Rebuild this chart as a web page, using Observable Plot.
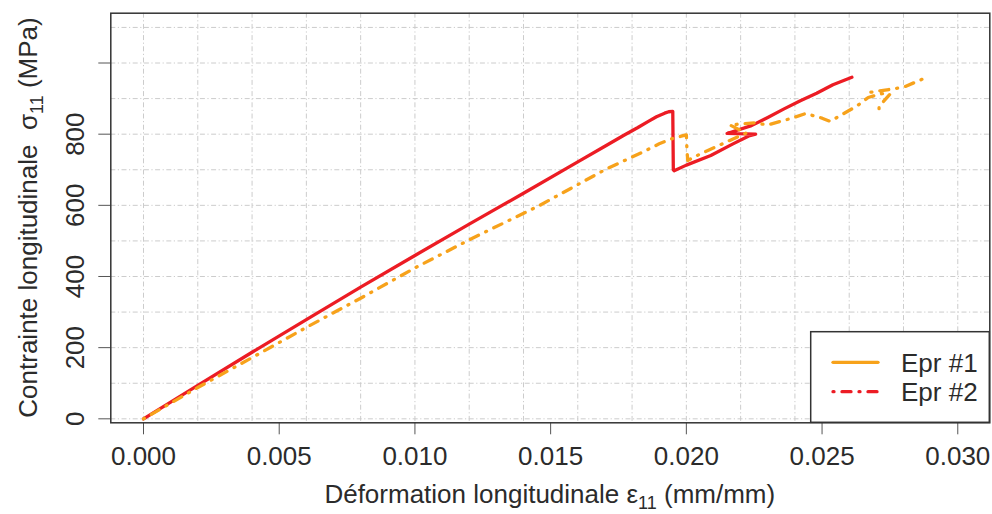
<!DOCTYPE html>
<html>
<head>
<meta charset="utf-8">
<script src="https://cdn.jsdelivr.net/npm/d3@7"></script>
<script src="https://cdn.jsdelivr.net/npm/@observablehq/plot@0.6"></script>
<style>
  html, body { margin: 0; padding: 0; background: #ffffff; }
  #chart { width: 992px; height: 514px; position: relative; }
</style>
</head>
<body>
<div id="chart"></div>
<script>
// ---- Data ----
// Red solid curve
const redStrain = [0, 0.001, 0.002, 0.004, 0.006, 0.008, 0.010, 0.012, 0.014, 0.016, 0.0170, 0.0177, 0.0182, 0.0186, 0.0189, 0.0192, 0.01935, 0.0195, 0.01952, 0.01955, 0.0200, 0.0209, 0.0217, 0.0223, 0.02255, 0.0215, 0.0224, 0.0230, 0.0236, 0.0242, 0.0248, 0.0254, 0.0261];
const redStress = [0, 47, 94, 187, 279, 370, 459, 547, 634, 722, 766, 797, 818, 836, 849, 859, 863, 864, 700, 697, 713, 740, 772, 795, 800, 802, 824, 847, 871, 894, 915, 939, 960];
// Orange dash-dot curve (NaN = break in the line)
const orangeStrain = [0, 0.001, 0.002, 0.004, 0.006, 0.008, 0.010, 0.012, 0.0146, 0.0170, 0.0184, 0.0190, 0.0195, 0.0200, 0.02002, 0.02005, 0.0205, 0.0211, 0.0217, 0.0222, 0.0216, 0.0225, 0.0230, 0.0238, 0.0244, 0.0250, 0.0253, 0.0258, 0.0263, 0.0267, 0.0272, 0.0275, 0.0271, 0.0271, 0.0270, 0.0268, 0.0275, 0.0280, 0.0284, 0.0288];
const orangeStress = [0, 44, 88, 172, 257, 339, 424, 503, 600, 700, 750, 773, 788, 798, 760, 726, 744, 765, 786, 803, 826, 832, 826, 843, 858, 845, 836, 858, 880, 903, 914, 912, 878, 866, NaN, 918, 926, 932, 945, 958];

const legendLabels = ["Epr #1", "Epr #2"];
const xTicks = [0, 0.005, 0.010, 0.015, 0.020, 0.025, 0.030];
const xTickLabels = ["0.000", "0.005", "0.010", "0.015", "0.020", "0.025", "0.030"];
const yTicks = [0, 200, 400, 600, 800, 1000];
const yTickLabels = ["0", "200", "400", "600", "800", ""];
const xGrid = [0, 0.002, 0.004, 0.006, 0.008, 0.010, 0.012, 0.014, 0.016, 0.018, 0.020, 0.022, 0.024, 0.026, 0.028, 0.030];
const yGrid = [0, 100, 200, 300, 400, 500, 600, 700, 800, 900, 1000, 1100];

const RED = "#EC1C24";
const ORANGE = "#F7A21B";
const FONT = "'Liberation Sans', Arial, Helvetica, sans-serif";

const redData = redStrain.map((x, i) => ({x, y: redStress[i]}));
const orangeData = orangeStrain.map((x, i) => ({x, y: orangeStress[i]}));
const yLabelData = yTicks.map((v, i) => ({v, t: yTickLabels[i]}));

const W = 992, H = 514;
const mL = 110.3, mR = 2.7, mT = 12.7, mB = 91.7;

const gridStyle = {stroke: "#cccccc", strokeWidth: 1, strokeDasharray: "5,2.5,1.2,2.5"};

const chart = Plot.plot({
  width: W, height: H,
  marginLeft: mL, marginRight: mR, marginTop: mT, marginBottom: mB,
  style: {fontFamily: FONT, fontSize: "26px", color: "#2b2b2b", background: "#ffffff", overflow: "visible"},
  x: {domain: [-0.001205, 0.03118], ticks: xTicks, tickSize: 12, tickPadding: 12,
      tickFormat: (d) => xTickLabels[xTicks.indexOf(d)] ?? "", label: null},
  y: {domain: [-11.2, 1140], ticks: yTicks, tickSize: 12, tickFormat: () => "", label: null},
  marks: [
    Plot.ruleX(xGrid, gridStyle),
    Plot.ruleY(yGrid, gridStyle),
    Plot.line(redData, {x: "x", y: "y", stroke: RED, strokeWidth: 3.3, strokeLinejoin: "round", strokeLinecap: "round"}),
    Plot.line(orangeData, {x: "x", y: "y", stroke: ORANGE, strokeWidth: 3.3, strokeDasharray: "1,8,9,8", strokeLinecap: "round", strokeLinejoin: "round"}),
    Plot.frame({stroke: "#333333", strokeWidth: 1.5}),
    Plot.text(yLabelData, {y: "v", text: "t", frameAnchor: "left", dx: -35.6, rotate: -90,
      textAnchor: "middle", lineAnchor: "middle", fontSize: 26, fill: "#2b2b2b"})
  ]
});

document.getElementById("chart").appendChild(chart);

const svg = d3.select(chart);
// tick line colors
svg.selectAll("g[aria-label*='axis'] line, g[aria-label*='axis'] path").attr("stroke", "#555555");

// Axis titles
const xt = svg.append("text")
  .attr("x", (mL + W - mR) / 2).attr("y", 503)
  .attr("text-anchor", "middle").attr("font-family", FONT).attr("font-size", 26).attr("fill", "#2b2b2b");
xt.append("tspan").text("Déformation longitudinale ε");
xt.append("tspan").attr("font-size", 18).attr("dy", 6).text("11");
xt.append("tspan").attr("dy", -6).text(" (mm/mm)");

const yt = svg.append("text")
  .attr("transform", `translate(37,${(mT + H - mB) / 2}) rotate(-90)`)
  .attr("text-anchor", "middle").attr("font-family", FONT).attr("font-size", 26).attr("fill", "#2b2b2b")
  .attr("xml:space", "preserve");
yt.append("tspan").text("Contrainte longitudinale\u00a0 σ");
yt.append("tspan").attr("font-size", 18).attr("dy", 6).text("11");
yt.append("tspan").attr("dy", -6).text(" (MPa)");

// Legend
const lx0 = 810.7, ly0 = 331.7, lx1 = W - mR, ly1 = H - mB;
const lg = svg.append("g");
lg.append("rect").attr("x", lx0).attr("y", ly0).attr("width", lx1 - lx0).attr("height", ly1 - ly0)
  .attr("fill", "#ffffff").attr("stroke", "#333333").attr("stroke-width", 1.5);
const legendColors = [ORANGE, RED];
const legendDash = [null, "1,8,9,8"];
const legendY = [362.3, 391.7];
legendLabels.forEach((lab, i) => {
  lg.append("line").attr("x1", 833).attr("x2", 878).attr("y1", legendY[i]).attr("y2", legendY[i])
    .attr("stroke", legendColors[i]).attr("stroke-width", 3.3).attr("stroke-linecap", "round")
    .attr("stroke-dasharray", legendDash[i]);
  lg.append("text").attr("x", 901).attr("y", legendY[i] + 9.2).attr("text-anchor", "start")
    .attr("font-family", FONT).attr("font-size", 26).attr("fill", "#2b2b2b").text(lab);
});
</script>
</body>
</html>
